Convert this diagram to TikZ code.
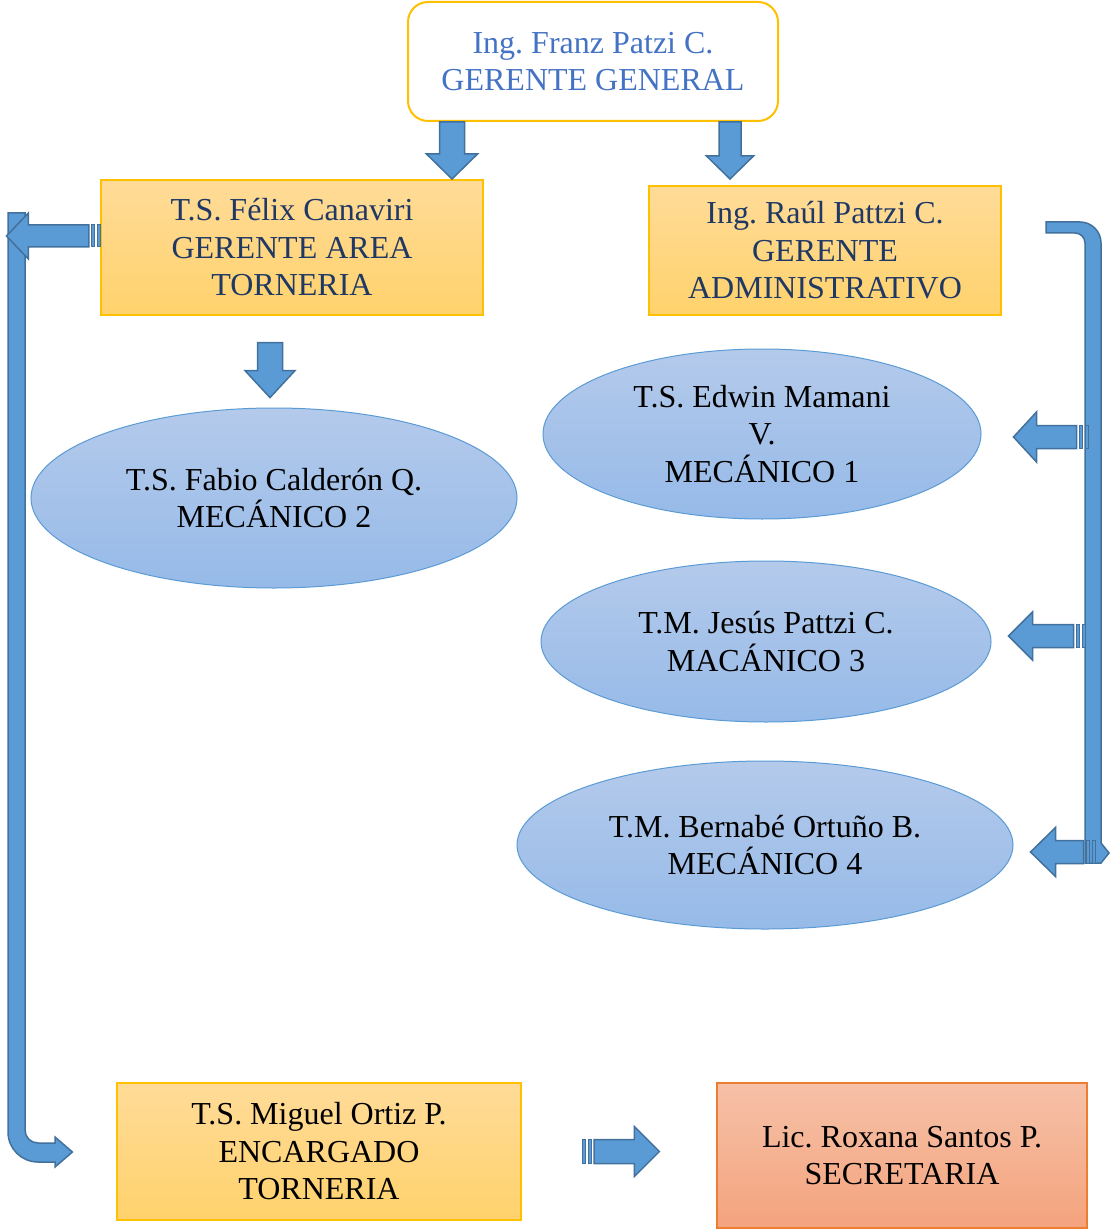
\documentclass[tikz,border=0pt]{standalone}
\usepackage{fontspec}
\setmainfont{Liberation Serif}
\usetikzlibrary{shapes.geometric,calc}
\frenchspacing
\definecolor{arrfill}{HTML}{5B9BD5}
\definecolor{arrline}{HTML}{41719C}
\definecolor{gold}{HTML}{FFC000}
\definecolor{navy}{HTML}{1F3864}
\definecolor{topblue}{HTML}{4472C4}
\definecolor{ytop}{RGB}{255,219,152}
\definecolor{ybot}{RGB}{255,210,108}
\definecolor{etop}{RGB}{180,202,235}
\definecolor{ebot}{RGB}{150,186,232}
\definecolor{eline}{HTML}{5B9BD5}
\definecolor{stop}{RGB}{246,193,168}
\definecolor{sbot}{RGB}{244,163,125}
\definecolor{sline}{RGB}{237,125,49}
\tikzset{
  txt/.style={font=\fontsize{32}{37.5}\selectfont\frenchspacing, align=center, inner sep=0pt},
  ybox/.style={txt, rectangle, draw=gold, line width=1.2pt, top color=ytop, bottom color=ybot},
  ebox/.style={txt, ellipse, draw=eline, line width=1pt, top color=etop, bottom color=ebot},
  blockarrow/.style={fill=arrfill, draw=arrline, line width=1.5pt, line join=miter},
}
\newcommand\blkarrow[5]{%
  \coordinate (hb) at ($(#2)!#5!(#1)$);
  \draw[blockarrow] ($(#1)!#3!90:(#2)$) -- ($(hb)!#3!-90:(#1)$) -- ($(hb)!#4!-90:(#1)$) -- (#2)
     -- ($(hb)!#4!90:(#1)$) -- ($(hb)!#3!90:(#1)$) -- ($(#1)!#3!-90:(#2)$) -- cycle;}
\newcommand\stripedarrow[5]{%
  \coordinate (sa) at ($(#1)!3pt!(#2)$);
  \coordinate (sb) at ($(#1)!5.5pt!(#2)$);
  \coordinate (sc) at ($(#1)!9pt!(#2)$);
  \coordinate (sd) at ($(#1)!11.5pt!(#2)$);
  \draw[blockarrow, line width=1pt] ($(#1)!#3!90:(#2)$) -- ($(sa)!#3!-90:(#1)$) -- ($(sa)!#3!90:(#1)$) -- ($(#1)!#3!-90:(#2)$) -- cycle;
  \draw[blockarrow, line width=1pt] ($(sb)!#3!-90:(#1)$) -- ($(sc)!#3!-90:(#1)$) -- ($(sc)!#3!90:(#1)$) -- ($(sb)!#3!90:(#1)$) -- cycle;
  \blkarrow{sd}{#2}{#3}{#4}{#5}}
\begin{document}
\begin{tikzpicture}[x=1pt,y=-1pt]
\useasboundingbox[fill=white] (0,0) rectangle (1110,1230);

% nodes
\node[txt, rectangle, rounded corners=20pt, draw=gold, line width=2pt, fill=white,
      minimum width=370pt, minimum height=119pt, text=topblue] (top) at (593,61.5)
      {Ing. Franz Patzi C.\\GERENTE GENERAL};
\node[ybox, minimum width=382pt, minimum height=135pt, text=navy] (felix) at (292,247.5)
      {T.S. Félix Canaviri\\GERENTE AREA\\TORNERIA};
\node[ybox, minimum width=352pt, minimum height=129pt, text=navy] (raul) at (825,250.5)
      {Ing. Raúl Pattzi C.\\GERENTE\\ADMINISTRATIVO};
\node[ebox, minimum width=486pt, minimum height=180pt] (fabio) at (274,498)
      {T.S. Fabio Calderón Q.\\MECÁNICO 2};
\node[ebox, minimum width=438pt, minimum height=170pt] (edwin) at (762,434)
      {T.S. Edwin Mamani\\V.\\MECÁNICO 1};
\node[ebox, minimum width=450pt, minimum height=161pt] (jesus) at (766,641.5)
      {T.M. Jesús Pattzi C.\\MACÁNICO 3};
\node[ebox, minimum width=496pt, minimum height=168pt] (bernabe) at (765,845)
      {T.M. Bernabé Ortuño B.\\MECÁNICO 4};
\node[ybox, minimum width=404pt, minimum height=137pt] (miguel) at (319,1151.5)
      {T.S. Miguel Ortiz P.\\ENCARGADO\\TORNERIA};
\node[txt, rectangle, draw=sline, line width=1.2pt, top color=stop, bottom color=sbot,
      minimum width=370pt, minimum height=145pt] (roxana) at (902,1155.5)
      {Lic. Roxana Santos P.\\SECRETARIA};

% straight block arrows
\coordinate (a1s) at ($(top.south)+(-141,0)$);
\coordinate (a1e) at ($(top.south)+(-141,57)$);
\blkarrow{a1s}{a1e}{12.5pt}{25.5pt}{25pt}
\coordinate (a2s) at ($(top.south)+(137,0)$);
\coordinate (a2e) at ($(top.south)+(137,57)$);
\blkarrow{a2s}{a2e}{11pt}{23.5pt}{23pt}
\coordinate (a3s) at ($(felix.south)+(-22,27)$);
\coordinate (a3e) at ($(felix.south)+(-22,82)$);
\blkarrow{a3s}{a3e}{12.5pt}{25pt}{27pt}

% left bent arrow (Felix -> Miguel)
\coordinate (Ltip) at ($(miguel.west)+(-44,0.5)$);
\draw[blockarrow] (8,213) -- (25,213) -- (25,1130) .. controls (25,1137.2) and (30.8,1143) .. (38,1143)
   -- (55,1143) -- (55,1137) -- (Ltip) -- (55,1167) -- (55,1162) -- (38,1162)
   .. controls (21.4,1162) and (8,1148.6) .. (8,1132) -- cycle;
\coordinate (f1) at ($(felix.west)+(0,-11.5)$);
\coordinate (f2) at ($(felix.west)+(-94,-11.5)$);
\stripedarrow{f1}{f2}{11pt}{23pt}{22pt}

% right bent bar
\draw[blockarrow] (1046,222) -- (1080,222) .. controls (1091.6,222) and (1101,231.4) .. (1101,243)
   -- (1101,843) -- (1109,853) -- (1101,863) -- (1085,863) -- (1085,243)
   .. controls (1085,237.5) and (1080.5,233) .. (1075,233) -- (1046,233) -- cycle;

\coordinate (e1) at (1088,437);
\coordinate (e2) at ($(edwin.east)+(32,3)$);
\stripedarrow{e1}{e2}{11.5pt}{25pt}{23pt}
\coordinate (j1) at (1085,636);
\coordinate (j2) at ($(jesus.east)+(17,-5.5)$);
\stripedarrow{j1}{j2}{11.5pt}{24pt}{24pt}
\coordinate (b1) at (1095,852);
\coordinate (b2) at ($(bernabe.east)+(17,7)$);
\stripedarrow{b1}{b2}{11.5pt}{24.5pt}{25pt}

% bottom arrow Miguel -> Roxana
\coordinate (m1) at ($(miguel.east)+(61,0)$);
\coordinate (m2) at ($(roxana.west)+(-57,-4)$);
\stripedarrow{m1}{m2}{12pt}{25pt}{25pt}
\end{tikzpicture}
\end{document}
